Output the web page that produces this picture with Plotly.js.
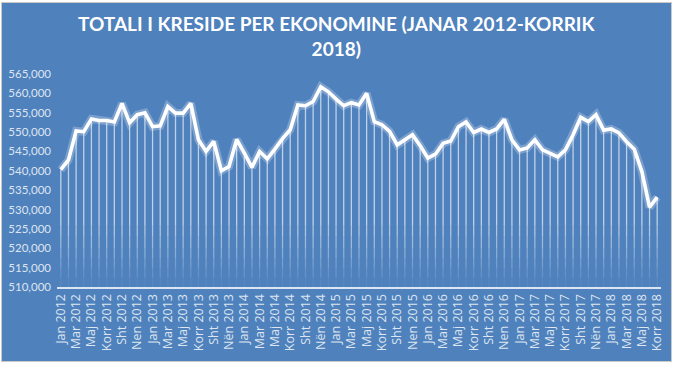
<!DOCTYPE html>
<html><head><meta charset="utf-8">
<script src="https://cdn.plot.ly/plotly-3.0.1.min.js"></script>
<style>
html,body{margin:0;padding:0;background:#fff;width:680px;height:366px;overflow:hidden}
#frame{position:absolute;left:1px;top:2px;width:671px;height:360px;background:#c9c9c9;}
#chart{position:absolute;left:2px;top:3px;width:669px;height:358px;}
</style></head><body><div id="frame"></div><div id="chart"></div><script>
// Data
const years = [2012, 2013, 2014, 2015, 2016, 2017, 2018];
const monthNames = ['Jan','Shk','Mar','Pri','Maj','Qer','Korr','Gus','Sht','Tet','Nën','Dhj'];
const values2012 = [540300, 542800, 550300, 550100, 553400, 553000, 553000, 552600, 557400, 552400, 554500, 555000];
const values2013 = [551400, 551600, 556600, 554900, 554900, 557400, 548000, 545000, 547600, 540000, 541100, 548100];
const values2014 = [544600, 540900, 545000, 543100, 545600, 548300, 550600, 557000, 556800, 557900, 561700, 560400];
const values2015 = [558500, 556800, 557600, 557000, 560000, 552700, 551900, 550200, 546700, 548100, 549300, 546500];
const values2016 = [543300, 544300, 547100, 547700, 551400, 552600, 549900, 550800, 549900, 550800, 553300, 548000];
const values2017 = [545400, 545900, 548000, 545400, 544600, 543600, 545400, 549300, 553800, 552700, 554500, 550500];
const values2018 = [550800, 549800, 547500, 545600, 539800, 530600, 533200];
const tickLabels = [
 'Jan 2012','Mar 2012','Maj 2012','Korr 2012','Sht 2012','Nen 2012',
 'Jan 2013','Mar 2013','Maj 2013','Korr 2013','Sht 2013','Nën 2013',
 'Jan 2014','Mar 2014','Maj 2014','Korr 2014','Sht 2014','Nën 2014',
 'Jan 2015','Mar 2015','Maj 2015','Korr 2015','Sht 2015','Nen 2015',
 'Jan 2016','Mar 2016','Maj 2016','Korr 2016','Sht 2016','Nen 2016',
 'Jan 2017','Mar 2017','Maj 2017','Korr 2017','Sht 2017','Nën 2017',
 'Jan 2018','Mar 2018','Maj 2018','Korr 2018'];
const yTicks = [510000,515000,520000,525000,530000,535000,540000,545000,550000,555000,560000,565000];
const titleText = 'TOTALI I KRESIDE PER EKONOMINE (JANAR 2012-KORRIK<br>2018)';

const values = [].concat(values2012, values2013, values2014, values2015, values2016, values2017, values2018);
const categories = [];
years.forEach(y => monthNames.forEach(m => { if (categories.length < values.length) categories.push(m + ' ' + y); }));
const tickVals = categories.filter((c, i) => i % 2 === 0);

// fading drop lines (bands from axis upward)
const bandEdges = [510000, 512500, 515000, 517500, 520000, 523000, 526000];
const bandOpac  = [0.06, 0.14, 0.24, 0.34, 0.44, 0.54, 0.64];
const traces = [];
for (let k = 0; k < bandEdges.length; k++) {
  const lo = bandEdges[k];
  const hi = k + 1 < bandEdges.length ? bandEdges[k + 1] : Infinity;
  const xs = [], ys = [];
  values.forEach((v, i) => {
    if (v > lo) { xs.push(categories[i], categories[i], null); ys.push(lo, Math.min(v, hi), null); }
  });
  traces.push({x: xs, y: ys, type: 'scatter', mode: 'lines', hoverinfo: 'skip',
    line: {color: 'rgba(255,255,255,' + bandOpac[k] + ')', width: 1.3}});
}
traces.push({x: categories, y: values, type: 'scatter', mode: 'lines', hoverinfo: 'skip',
  line: {color: 'rgba(255,255,255,0.25)', width: 8}});
traces.push({x: categories, y: values, type: 'scatter', mode: 'lines',
  line: {color: '#ffffff', width: 3.6}});

const tickColor = '#dde5f0';
const layout = {
  width: 669, height: 358,
  paper_bgcolor: '#4F81BD', plot_bgcolor: '#4F81BD',
  margin: {l: 55, r: 10, t: 71, b: 74},
  showlegend: false,
  annotations: [{text: titleText, showarrow: false, xref: 'paper', yref: 'paper',
    x: 0.463, xanchor: 'center', y: 1.30, yanchor: 'top', align: 'center',
    font: {family: 'Lato, sans-serif', size: 19, color: '#ffffff', weight: 700}}],
  xaxis: {type: 'category', categoryorder: 'array', categoryarray: categories,
    range: [-0.5, values.length - 0.5], tickmode: 'array', tickvals: tickVals, ticktext: tickLabels,
    tickangle: -90, showgrid: false, zeroline: false, showline: true,
    linecolor: 'rgba(235,240,248,0.9)', linewidth: 2, ticks: '',
    tickfont: {family: '"Open Sans", sans-serif', size: 12.5, color: tickColor}},
  yaxis: {range: [510000, 565000], tickmode: 'array', tickvals: yTicks, tickformat: ',d',
    showgrid: false, zeroline: false, showline: false, ticks: '',
    ticklabelstandoff: 5,
    tickfont: {family: 'Lato, sans-serif', size: 11.5, color: tickColor}}
};
Plotly.newPlot('chart', traces, layout, {displayModeBar: false, staticPlot: true});
</script></body></html>
